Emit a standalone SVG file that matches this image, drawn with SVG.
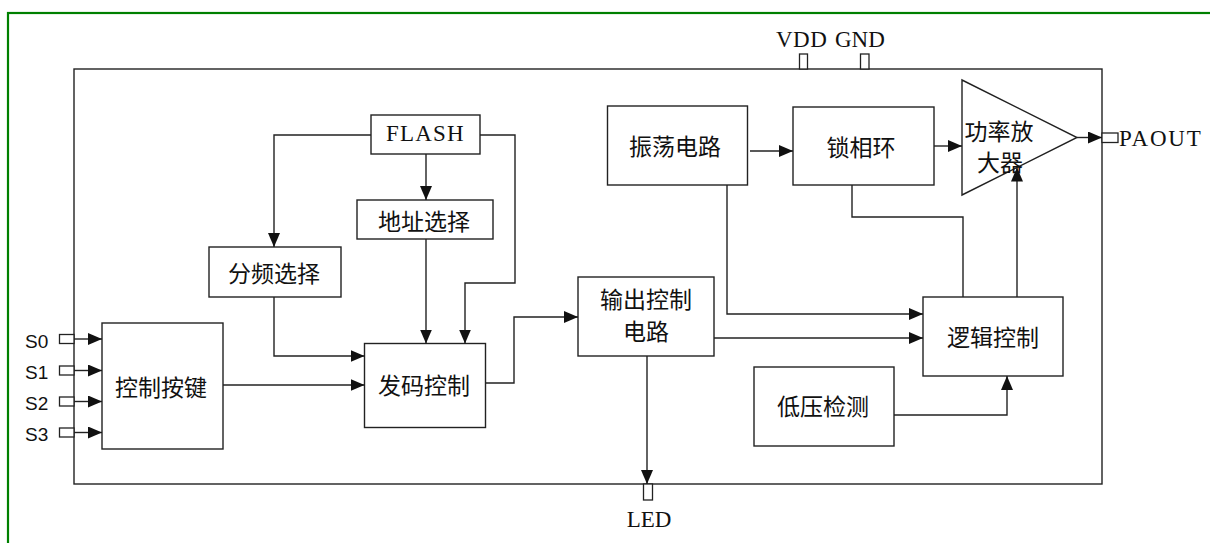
<svg xmlns="http://www.w3.org/2000/svg" width="1210" height="543" viewBox="0 0 1210 543">
<defs>
<style>
.box{fill:#fff;stroke:#222;stroke-width:1.4}
.pin{fill:#fff;stroke:#222;stroke-width:1.3}
.ln{fill:none;stroke:#222;stroke-width:1.4}
.cj{font-family:"Noto Sans CJK SC","Noto Sans",sans-serif;font-size:23px;fill:#111;text-anchor:middle;dominant-baseline:central}
.lat{font-family:"Liberation Serif",serif;font-size:23px;fill:#111}
.sn{font-family:"Liberation Sans",sans-serif;font-size:19px;fill:#111}
</style>
<marker id="ah" viewBox="0 0 14 12" refX="14" refY="6" markerWidth="14" markerHeight="12" markerUnits="userSpaceOnUse" orient="auto"><path d="M0,0 L14,6 L0,12 z" fill="#111"/></marker>
</defs>
<rect x="0" y="0" width="1210" height="543" fill="#fff"/>
<rect x="8" y="13" width="1230" height="560" fill="none" stroke="#008000" stroke-width="2.2"/>
<g id="chip">
<rect x="74" y="69" width="1028" height="415" class="box" fill="none"/>
</g>
<g id="pins">
<rect x="59.5" y="334.5" width="14.5" height="9" class="pin"/>
<rect x="59.5" y="366" width="14.5" height="9" class="pin"/>
<rect x="59.5" y="397" width="14.5" height="9" class="pin"/>
<rect x="59.5" y="428" width="14.5" height="9" class="pin"/>
<text x="25" y="347.5" class="sn">S0</text>
<text x="25" y="379" class="sn">S1</text>
<text x="25" y="410" class="sn">S2</text>
<text x="25" y="441" class="sn">S3</text>
<rect x="799.5" y="54" width="8" height="15" class="pin"/>
<rect x="860.5" y="54" width="8.5" height="15" class="pin"/>
<text x="776" y="47" class="lat" letter-spacing="0.5">VDD</text>
<text x="835" y="47" class="lat" letter-spacing="0">GND</text>
<rect x="1102" y="133" width="16" height="9.5" class="pin"/>
<text x="1119" y="146" class="lat" letter-spacing="1.8">PAOUT</text>
<rect x="643.5" y="484" width="9" height="16" class="pin"/>
<text x="649" y="527" class="lat" font-size="17" text-anchor="middle">LED</text>
</g>
<g id="flash"><rect x="371" y="115" width="109" height="39" class="box"/><text x="425.5" y="141" class="lat" font-size="18" letter-spacing="1.2" text-anchor="middle">FLASH</text></g>
<g id="addr"><rect x="357" y="200" width="136" height="39" class="box"/><text x="424" y="219.5" class="cj">地址选择</text></g>
<g id="freq"><rect x="209" y="247" width="132" height="50" class="box"/><text x="274" y="272" class="cj">分频选择</text></g>
<g id="keys"><rect x="102" y="323" width="121" height="126" class="box"/><text x="161" y="386" class="cj">控制按键</text></g>
<g id="enc"><rect x="364.5" y="343.5" width="121" height="84" class="box"/><text x="424" y="384" class="cj">发码控制</text></g>
<g id="outc"><rect x="578" y="277" width="136" height="79" class="box"/><text x="646" y="298" class="cj">输出控制</text><text x="646" y="330" class="cj">电路</text></g>
<g id="osc"><rect x="607.5" y="106" width="140" height="79" class="box"/><text x="675" y="145" class="cj">振荡电路</text></g>
<g id="pll"><rect x="793" y="107" width="141" height="78" class="box"/><text x="861" y="145.5" class="cj">锁相环</text></g>
<g id="logic"><rect x="923" y="297" width="140" height="79" class="box"/><text x="993" y="336" class="cj">逻辑控制</text></g>
<g id="lowv"><rect x="754" y="367" width="140" height="79" class="box"/><text x="823" y="405" class="cj">低压检测</text></g>
<g id="amp"><path d="M962,80 L1077,137.5 L962,195 Z" class="box"/><text x="999" y="130" class="cj">功率放</text><text x="1000" y="161" class="cj">大器</text></g>
<g id="connectors" class="ln" marker-end="url(#ah)">
<path d="M74,339 H102"/>
<path d="M74,370.5 H102"/>
<path d="M74,401.5 H102"/>
<path d="M74,432.5 H102"/>
<path d="M223,385 H364.5"/>
<path d="M371,135 H274 V247"/>
<path d="M426,154 V200"/>
<path d="M426,239 V343.5"/>
<path d="M480,135 H515 V283 H465 V343.5"/>
<path d="M274,297 V356 H364.5"/>
<path d="M486,383 H514 V317 H578"/>
<path d="M647,356 V484"/>
<path d="M714,338 H923"/>
<path d="M727,185 V314 H923"/>
<path d="M750,151 H793"/>
<path d="M934,146 H962"/>
<path d="M852,185 V217 H963 V297" marker-end="none"/>
<path d="M1017,297 V167.5"/>
<path d="M894,415 H1007 V376"/>
<path d="M1077,137.5 H1102"/>
</g>
</svg>
